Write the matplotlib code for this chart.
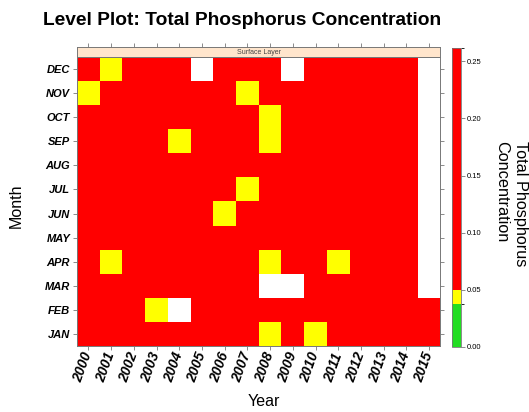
import numpy as np
import matplotlib
matplotlib.use("Agg")
import matplotlib.pyplot as plt
from matplotlib.colors import ListedColormap, BoundaryNorm

plt.rcParams['font.family'] = ['Liberation Sans', 'DejaVu Sans']

years = list(range(2000, 2016))
months = ['JAN', 'FEB', 'MAR', 'APR', 'MAY', 'JUN',
          'JUL', 'AUG', 'SEP', 'OCT', 'NOV', 'DEC']
nan = np.nan

# total phosphorus (mg/L), surface layer, one row per month (JAN first), 2000-2015
tp_jan = [0.11, 0.09, 0.13, 0.10, 0.08, 0.12, 0.10, 0.09, 0.045, 0.08, 0.042, 0.09, 0.11, 0.10, 0.12, 0.09]
tp_feb = [0.10, 0.12, 0.09, 0.046, nan, 0.11, 0.09, 0.10, 0.08, 0.09, 0.10, 0.12, 0.09, 0.11, 0.10, 0.08]
tp_mar = [0.12, 0.10, 0.11, 0.09, 0.10, 0.13, 0.08, 0.09, nan, nan, 0.11, 0.10, 0.09, 0.12, 0.10, nan]
tp_apr = [0.09, 0.044, 0.10, 0.12, 0.09, 0.10, 0.11, 0.08, 0.047, 0.09, 0.10, 0.043, 0.11, 0.09, 0.10, nan]
tp_may = [0.10, 0.11, 0.09, 0.10, 0.12, 0.09, 0.10, 0.11, 0.09, 0.10, 0.08, 0.09, 0.10, 0.11, 0.09, nan]
tp_jun = [0.12, 0.10, 0.11, 0.09, 0.10, 0.08, 0.045, 0.10, 0.11, 0.09, 0.10, 0.12, 0.09, 0.10, 0.11, nan]
tp_jul = [0.11, 0.13, 0.10, 0.12, 0.09, 0.10, 0.11, 0.048, 0.10, 0.12, 0.09, 0.10, 0.11, 0.09, 0.10, nan]
tp_aug = [0.13, 0.11, 0.12, 0.10, 0.11, 0.09, 0.10, 0.12, 0.09, 0.11, 0.10, 0.09, 0.12, 0.10, 0.11, nan]
tp_sep = [0.10, 0.09, 0.11, 0.10, 0.046, 0.10, 0.12, 0.09, 0.044, 0.10, 0.11, 0.09, 0.10, 0.12, 0.09, nan]
tp_oct = [0.09, 0.10, 0.08, 0.11, 0.10, 0.09, 0.10, 0.11, 0.043, 0.09, 0.10, 0.11, 0.09, 0.10, 0.12, nan]
tp_nov = [0.045, 0.09, 0.10, 0.09, 0.11, 0.10, 0.09, 0.047, 0.10, 0.08, 0.09, 0.10, 0.11, 0.09, 0.10, nan]
tp_dec = [0.10, 0.044, 0.09, 0.10, 0.08, nan, 0.10, 0.09, 0.11, nan, 0.10, 0.09, 0.10, 0.11, 0.09, nan]

tp = np.ma.masked_invalid(np.array([tp_jan, tp_feb, tp_mar, tp_apr, tp_may, tp_jun,
                                    tp_jul, tp_aug, tp_sep, tp_oct, tp_nov, tp_dec]))

levels = [0.0, 0.037, 0.05, 0.262]
cmap = ListedColormap(['#22DD22', '#FFFF00', '#FF0000'])
norm = BoundaryNorm(levels, cmap.N)

fig = plt.figure(figsize=(5.29, 4.12), dpi=100)
ax = fig.add_axes([0.1456, 0.1602, 0.6871, 0.7015])
strip = fig.add_axes([0.1456, 0.8617, 0.6871, 0.0233])
cax = fig.add_axes([0.855, 0.1585, 0.0164, 0.7257])

xe = np.arange(len(years) + 1) - 0.5
ye = np.arange(len(months) + 1) - 0.5
mesh = ax.pcolormesh(xe, ye, tp, cmap=cmap, norm=norm)
ax.set_xlim(xe[0], xe[-1])
ax.set_ylim(ye[0], ye[-1])

edge = '#777777'
ax.set_xticks(range(len(years)))
ax.set_xticklabels(years, rotation=70, ha='right', va='center',
                   rotation_mode='anchor', fontsize=10, fontweight='bold', style='italic')
ax.set_yticks(range(len(months)))
ax.set_yticklabels(months, fontsize=8, fontweight='bold', style='italic')
ax.tick_params(axis='x', direction='out', length=3, width=0.6, color=edge, pad=2)
ax.tick_params(axis='y', direction='out', length=3, width=0.6, color=edge, pad=2,
               right=True)
for s in ax.spines.values():
    s.set_color(edge)
    s.set_linewidth(0.7)

ax.set_xlabel('Year', fontsize=11.5)
ax.xaxis.set_label_coords(0.514, -0.166)
ax.set_ylabel('Month', fontsize=11.5)
ax.yaxis.set_label_coords(-0.146, 0.484)

# panel strip
strip.set_facecolor('#FFE5CC')
strip.set_xlim(xe[0], xe[-1])
strip.set_yticks([])
strip.set_xticks(range(len(years)))
strip.tick_params(axis='x', bottom=False, labelbottom=False, top=True,
                  labeltop=False, direction='out', length=3, width=0.6, color=edge)
for s in strip.spines.values():
    s.set_color(edge)
    s.set_linewidth(0.7)
strip.text(0.5, 0.45, 'Surface Layer', transform=strip.transAxes,
           ha='center', va='center', fontsize=5, color='#444444')

cb = fig.colorbar(mesh, cax=cax, spacing='proportional',
                  ticks=[0.0, 0.05, 0.10, 0.15, 0.20, 0.25], format='%.2f')
cb.outline.set_edgecolor(edge)
cb.outline.set_linewidth(0.6)
cax.tick_params(labelsize=5.5, length=3, width=0.6, color=edge, pad=1.5)

fig.text(0.966, 0.505, 'Total Phosphorus\nConcentration', rotation=-90,
         ha='center', va='center', multialignment='left', fontsize=11.7,
         linespacing=1.3)

fig.suptitle('Level Plot: Total Phosphorus Concentration', x=0.458, y=0.972,
             fontsize=13.8, fontweight='bold')

fig.savefig('out.png', dpi=100)
